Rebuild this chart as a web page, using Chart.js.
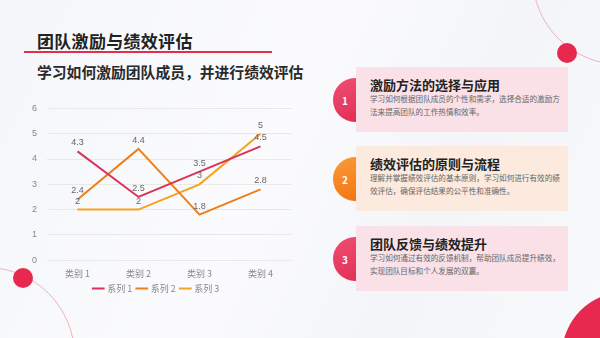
<!DOCTYPE html>
<html>
<head>
<meta charset="utf-8">
<script src="https://cdn.jsdelivr.net/npm/chart.js@4.4.0/dist/chart.umd.min.js"></script>
<style>
  html, body { margin: 0; padding: 0; }
  body {
    width: 600px; height: 338px; overflow: hidden; position: relative;
    font-family: "Noto Sans CJK SC", "Noto Sans", sans-serif;
    background: linear-gradient(115deg, #f4f6f9 0%, #fbfbfd 45%, #f3f5f8 70%, #f8f9fb 100%);
  }
  .title { position: absolute; left: 37px; top: 28px; font-size: 17px; font-weight: bold; color: #222; letter-spacing: 0.3px; }
  .rule { position: absolute; left: 24px; top: 51px; width: 248px; height: 2px; background: #e0304f; }
  .sub { position: absolute; left: 37px; top: 61px; font-size: 14.8px; font-weight: bold; color: #2a2a2a; }
  .chartbox { position: absolute; left: 22px; top: 93px; width: 275px; height: 210px; }
  .card { position: absolute; left: 356px; width: 212px; height: 65px; }
  .card h3 { position: absolute; left: 14px; top: 8px; margin: 0; font-size: 13px; font-weight: bold; color: #222; }
  .card p { position: absolute; left: 14px; top: 26px; width: 190px; margin: 0; font-size: 7.6px; line-height: 12.5px; color: #666; }
  .badge { position: absolute; left: 333px; width: 44px; height: 44px; border-radius: 50%; color: #fff; font-size: 10px; font-weight: bold; }
  .badge span { position: absolute; left: 9px; top: 15px; }
  .red { background: linear-gradient(160deg, #ee4f72, #e12a52); }
  .org { background: linear-gradient(160deg, #f99a3a, #f4700f); }
  .deco { position: absolute; border-radius: 50%; }
</style>
</head>
<body>
<div class="deco" style="left:532px;top:-113px;width:176px;height:176px;border:1px solid #efb3c0;"></div>
<div class="deco" style="left:557px;top:43px;width:20px;height:20px;background:#e8294f;"></div>
<div class="deco" style="left:-103px;top:267px;width:176px;height:176px;border:1px solid #efb3c0;"></div>
<div class="deco" style="left:13px;top:268px;width:20px;height:20px;background:#e8294f;"></div>
<div class="deco" style="left:562px;top:292px;width:126px;height:126px;background:#e8294f;"></div>

<div class="title">团队激励与绩效评估</div>
<div class="rule"></div>
<div class="sub">学习如何激励团队成员，并进行绩效评估</div>

<div class="chartbox"><canvas id="chart"></canvas></div>

<div class="badge red" style="top:78px;"><span>1</span></div>
<div class="card" style="top:67px;background:#f9e1e7;">
  <h3>激励方法的选择与应用</h3>
  <p>学习如何根据团队成员的个性和需求，选择合适的激励方法来提高团队的工作热情和效率。</p>
</div>
<div class="badge org" style="top:157px;"><span>2</span></div>
<div class="card" style="top:146px;background:#fbeadd;">
  <h3>绩效评估的原则与流程</h3>
  <p>理解并掌握绩效评估的基本原则，学习如何进行有效的绩效评估，确保评估结果的公平性和准确性。</p>
</div>
<div class="badge red" style="top:237px;"><span>3</span></div>
<div class="card" style="top:226px;background:#f9e1e7;">
  <h3>团队反馈与绩效提升</h3>
  <p>学习如何通过有效的反馈机制，帮助团队成员提升绩效，实现团队目标和个人发展的双赢。</p>
</div>

<script>
var categories = ['类别 1', '类别 2', '类别 3', '类别 4'];
var series1 = [4.3, 2.5, 3.5, 4.5];
var series2 = [2.4, 4.4, 1.8, 2.8];
var series3 = [2, 2, 3, 5];
var yTicks = [0, 1, 2, 3, 4, 5, 6];

// draw value labels above each point
var valueLabels = {
  id: 'valueLabels',
  afterDatasetsDraw: function(chart) {
    var c = chart.ctx;
    c.save();
    c.font = '9px "Liberation Sans", sans-serif';
    c.fillStyle = '#666';
    c.textAlign = 'center';
    c.textBaseline = 'bottom';
    chart.data.datasets.forEach(function(ds, i) {
      chart.getDatasetMeta(i).data.forEach(function(pt, j) {
        c.fillText(ds.data[j], pt.x, pt.y - 4);
      });
    });
    c.restore();
  }
};

var ctx = document.getElementById('chart').getContext('2d');
var myChart = new Chart(ctx, {
  type: 'line',
  data: {
    labels: categories,
    datasets: [
      { label: '系列 1', data: series1, borderColor: '#d9335c', backgroundColor: '#d9335c', borderWidth: 2, pointRadius: 0, tension: 0 },
      { label: '系列 2', data: series2, borderColor: '#ef7e16', backgroundColor: '#ef7e16', borderWidth: 2, pointRadius: 0, tension: 0 },
      { label: '系列 3', data: series3, borderColor: '#f5a21f', backgroundColor: '#f5a21f', borderWidth: 2, pointRadius: 0, tension: 0 }
    ]
  },
  options: {
    responsive: true,
    maintainAspectRatio: false,
    animation: false,
    layout: { padding: { top: 4, right: 6 } },
    plugins: {
      tooltip: { enabled: false },
      legend: {
        position: 'bottom',
        labels: {
          usePointStyle: true, pointStyle: 'line', boxWidth: 14,
          color: '#888', padding: 5,
          font: { size: 9, family: '"Noto Sans CJK SC", sans-serif' }
        }
      }
    },
    scales: {
      x: {
        offset: true,
        grid: { display: false },
        border: { display: false },
        ticks: { color: '#888', padding: 0, font: { size: 9, family: '"Noto Sans CJK SC", sans-serif' } }
      },
      y: {
        min: 0, max: 6,
        afterBuildTicks: function(axis) { axis.ticks = yTicks.map(function(v) { return { value: v }; }); },
        grid: { color: '#e8e8e8', drawTicks: false },
        border: { display: false },
        ticks: { color: '#888', padding: 10, font: { size: 9, family: '"Liberation Sans", sans-serif' } }
      }
    }
  },
  plugins: [valueLabels]
});
</script>
</body>
</html>
